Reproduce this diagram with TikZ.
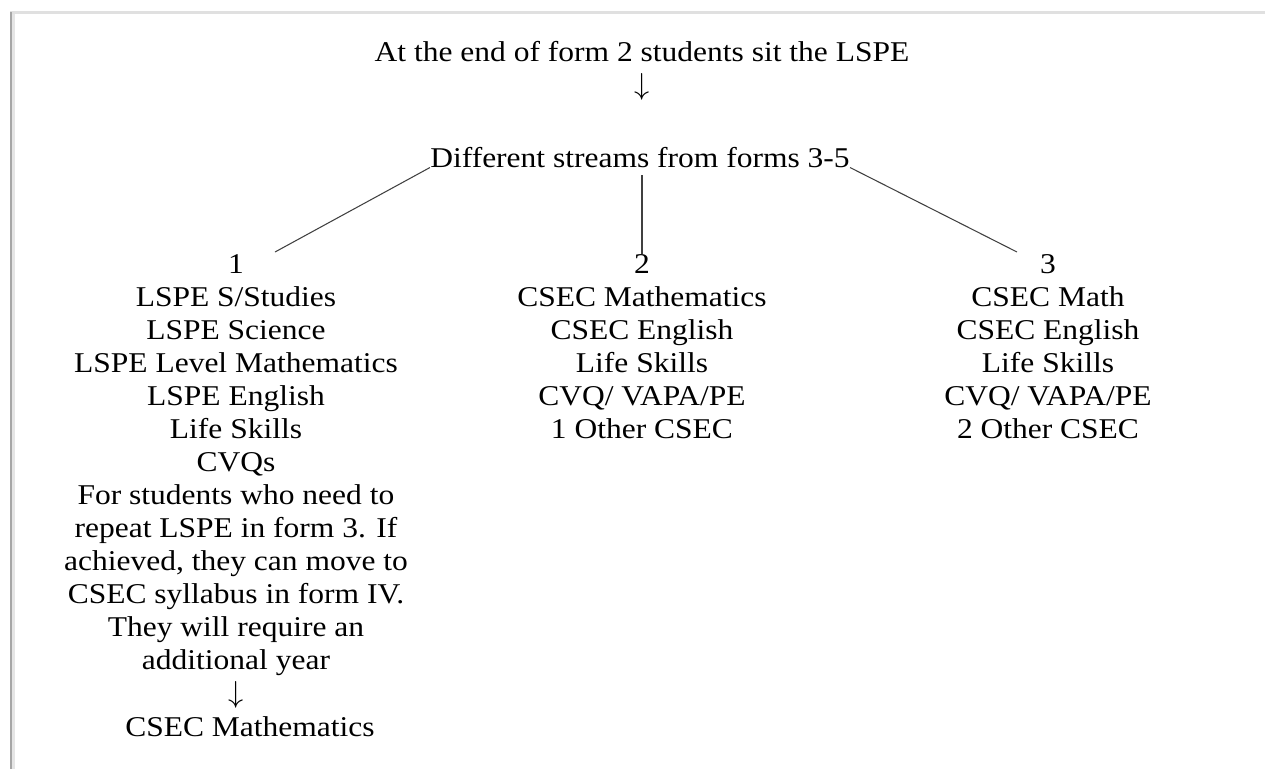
\documentclass[tikz,border=0pt]{standalone}
\usepackage{fontspec}
\setmainfont{Liberation Serif}[FakeStretch=1.1]
\usepackage{tikz}
\usetikzlibrary{positioning}

\begin{document}
\begin{tikzpicture}[x=0.02cm,y=-0.02cm]
    \useasboundingbox (0,0) rectangle (1265,769);

    % page edge with its shadow
    \draw[black!12,line width=1.2pt] (10,12.5) -- (1265,12.5);
    \draw[black!35,line width=1.6pt] (11,12) -- (11,769);
    \draw[black!10,line width=1.5pt] (13.8,14) -- (13.8,769);

    \tikzstyle{every node}=[inner sep=0pt,align=center,anchor=base,font=\fontsize{16.3}{18.8}\selectfont]
    \node(top) at (642,61.7){At the end of form 2 students sit the LSPE};
    \node(arr) at (642,94.7){$\downarrow$};
    \node(dif) at (640,167.5){Different streams from forms 3-5};

    % base of a list = base of its last line
    \node(s1) at (236,702.5){1\\LSPE S/Studies\\LSPE Science\\LSPE Level Mathematics\\LSPE English\\Life Skills\\CVQs\\For students who need to\\repeat LSPE in form 3. If\\achieved, they can move to\\CSEC syllabus in form IV.\\They will require an\\additional year\\$\downarrow$};
    \node(m1) at (250,736){CSEC Mathematics};
    \node(s2) at (642,438.5){2\\CSEC Mathematics\\CSEC English\\Life Skills\\CVQ/ VAPA/PE\\1 Other CSEC};
    \node(s3) at (1048,438.5){3\\CSEC Math\\CSEC English\\Life Skills\\CVQ/ VAPA/PE\\2 Other CSEC};

    \coordinate (e1) at (275,252);
    \coordinate (t2) at ([yshift=-0.14cm]dif.south -| s2.north);
    \coordinate (e3) at (1017,252);

    % streams
    \draw[black!75,line width=0.6pt](dif.base west)--(e1);
    \draw[black!75,line width=0.6pt](t2)--(s2.north);
    \draw[black!75,line width=0.6pt](dif.base east)--(e3);

\end{tikzpicture}
\end{document}
